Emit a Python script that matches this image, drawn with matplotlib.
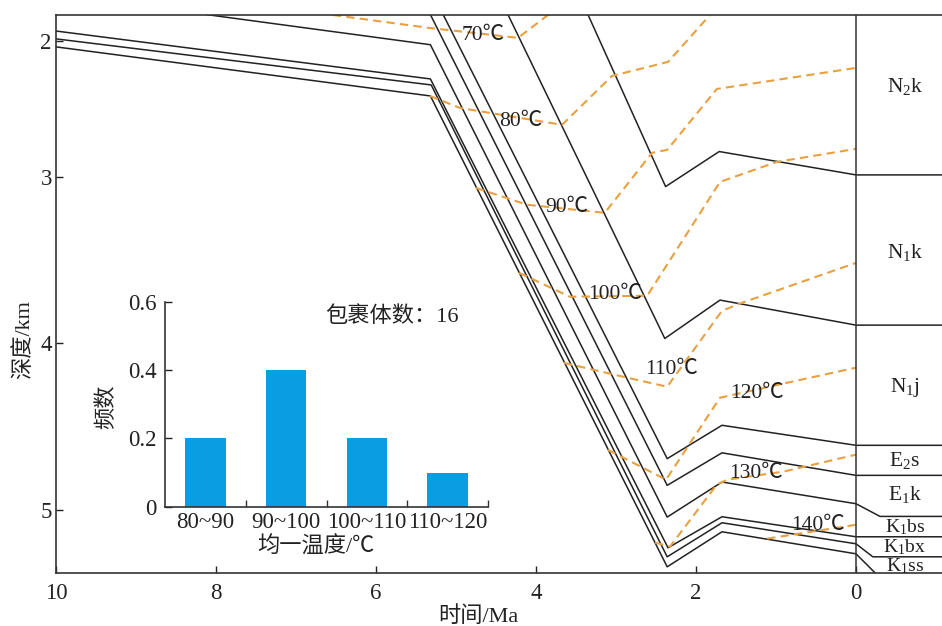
import numpy as np
import matplotlib
matplotlib.use('Agg')
import matplotlib.pyplot as plt

plt.rcParams['font.family'] = ['Liberation Serif', 'Noto Sans CJK SC']
plt.rcParams['mathtext.fontset'] = 'custom'
plt.rcParams['mathtext.rm'] = 'Liberation Serif'
plt.rcParams['mathtext.it'] = 'Liberation Serif:italic'
plt.rcParams['mathtext.bf'] = 'Liberation Serif:bold'
plt.rcParams['axes.unicode_minus'] = False

# 埋藏史曲线：各地层底界 (时间/Ma, 深度/km)，0 Ma 右侧为地层柱
n2k_age = [3.35, 2.38, 1.71, 0, -1.1]
n2k_depth = [2.03, 3.06, 2.85, 2.99, 2.99]
n1k_age = [4.35, 2.39, 1.70, 0, -1.1]
n1k_depth = [2.03, 3.97, 3.74, 3.89, 3.89]
n1j_age = [5.16, 2.36, 1.675, 0, -1.1]
n1j_depth = [2.03, 4.69, 4.49, 4.61, 4.61]
e2s_age = [5.32, 2.36, 1.675, 0, -1.1]
e2s_depth = [2.03, 4.85, 4.655, 4.79, 4.79]
e1k_age = [8.11, 5.32, 2.36, 1.675, 0, -0.3, -1.1]
e1k_depth = [2.03, 2.21, 5.04, 4.83, 4.96, 5.036, 5.036]
k1bs_age = [10, 5.32, 2.35, 1.675, 0, -1.1]
k1bs_depth = [2.128, 2.415, 5.224, 5.038, 5.158, 5.158]
k1bx_age = [10, 5.31, 2.36, 1.675, 0, -0.21, -1.1]
k1bx_depth = [2.175, 2.451, 5.278, 5.074, 5.20, 5.278, 5.278]
k1ss_age = [10, 5.32, 2.36, 1.675, 0, -0.24]
k1ss_depth = [2.223, 2.517, 5.338, 5.128, 5.26, 5.375]

# 古地温等温线
t70_age = [6.54, 5.325, 4.225, 3.85]
t70_depth = [2.032, 2.11, 2.169, 2.032]
t80_age = [5.325, 4.95, 3.675, 3.05, 2.35, 1.825]
t80_depth = [2.517, 2.589, 2.69, 2.397, 2.313, 2.032]
t90_age = [4.75, 4.11, 3.14, 2.55, 2.36, 1.74, 0]
t90_depth = [3.068, 3.169, 3.217, 2.858, 2.84, 2.475, 2.349]
t100_age = [4.21, 3.575, 2.61, 1.70, 0.99, 0]
t100_depth = [3.577, 3.72, 3.714, 3.032, 2.912, 2.834]
t110_age = [3.65, 2.86, 2.36, 1.675, 1.425, 0]
t110_depth = [4.116, 4.205, 4.259, 3.804, 3.756, 3.517]
t120_age = [3.1, 2.375, 1.70, 0.86, 0]
t120_depth = [4.637, 4.816, 4.325, 4.235, 4.145]
t130_age = [2.51, 2.325, 1.74, 1.61, 0.91, 0]
t130_depth = [5.193, 5.217, 4.846, 4.816, 4.768, 4.666]
t140_age = [1.11, 0]
t140_depth = [5.169, 5.086]

temps = [70, 80, 90, 100, 110, 120, 130, 140]
temp_label_age = [4.66, 4.19, 3.61, 3.01, 2.30, 1.24, 1.25, 0.475]
temp_label_depth = [2.152, 2.672, 3.187, 3.708, 4.158, 4.301, 4.78, 5.092]

# 地层柱
strata = [r'N$_2$k', r'N$_1$k', r'N$_1$j', r'E$_2$s', r'E$_1$k',
          r'K$_1$bs', r'K$_1$bx', r'K$_1$ss']
strata_depth = [2.463, 3.457, 4.265, 4.702, 4.906, 5.100, 5.222, 5.334]
strata_size = [15.5, 15.5, 15.5, 15.5, 15.5, 14, 14, 14]

# 包裹体均一温度直方图
bins = ['80~90', '90~100', '100~110', '110~120']
freq = [0.2, 0.4, 0.2, 0.1]

line_c = '#222222'
iso_c = '#e8a040'
spine_c = '#333333'

fig = plt.figure(figsize=(9.42, 6.26), dpi=100)
ax = fig.add_axes([56 / 942, 53 / 626, 886 / 942, 558 / 626])

burial = [(n2k_age, n2k_depth), (n1k_age, n1k_depth), (n1j_age, n1j_depth),
          (e2s_age, e2s_depth), (e1k_age, e1k_depth), (k1bs_age, k1bs_depth),
          (k1bx_age, k1bx_depth), (k1ss_age, k1ss_depth)]
for age, depth in burial:
    ax.plot(age, depth, color=line_c, lw=1.1)

iso = [(t70_age, t70_depth), (t80_age, t80_depth), (t90_age, t90_depth),
       (t100_age, t100_depth), (t110_age, t110_depth), (t120_age, t120_depth),
       (t130_age, t130_depth), (t140_age, t140_depth)]
for age, depth in iso:
    ax.plot(age, depth, color=iso_c, lw=1.5, ls=(0, (4, 2.5)))

for t, x, y in zip(temps, temp_label_age, temp_label_depth):
    ax.text(x, y, '%d℃' % t, ha='center', va='center', fontsize=15.5, color=line_c)

ax.axvline(0, color=spine_c, lw=1.1)
for name, y, fs in zip(strata, strata_depth, strata_size):
    ax.text(-0.61, y, name, ha='center', va='center', fontsize=fs, color=line_c)

ax.set_xlim(10, -1.075)
ax.set_ylim(5.375, 2.032)
ax.set_xticks([10, 8, 6, 4, 2, 0])
ax.set_yticks([2.19, 3, 4, 5])
ax.set_yticklabels(['2', '3', '4', '5'])
ax.tick_params(direction='in', length=5, width=1, labelsize=16.5, colors=line_c)
ax.tick_params(axis='x', pad=7)
ax.tick_params(axis='y', pad=3)
ax.spines['right'].set_visible(False)
for s in ['left', 'top', 'bottom']:
    ax.spines[s].set_color(spine_c)
    ax.spines[s].set_linewidth(1.2)

ax.set_xlabel('时间/Ma', fontsize=16, color=line_c)
ax.xaxis.set_label_coords(0.477, -0.06)
ax.set_ylabel('深度/km', fontsize=16, color=line_c)
ax.yaxis.set_label_coords(-0.025, 0.419)

# 插图
ins = fig.add_axes([165 / 942, (626 - 506.7) / 626, 323 / 942, 205 / 626])
ins.patch.set_alpha(0)
ins.bar(np.arange(len(bins)) + 0.5, freq, width=0.5, color='#0a9de2')
ins.set_xlim(0, 4)
ins.set_ylim(0, 0.6)
ins.spines['top'].set_visible(False)
ins.spines['right'].set_visible(False)
for s in ['left', 'bottom']:
    ins.spines[s].set_color(spine_c)
    ins.spines[s].set_linewidth(1.2)
ins.set_yticks([0, 0.2, 0.4, 0.6])
ins.set_yticklabels(['0', '0.2', '0.4', '0.6'])
ins.set_xticks(np.arange(len(bins)) + 0.5)
ins.set_xticklabels(bins)
ins.set_xticks([1, 2, 3, 4], minor=True)
ins.tick_params(axis='x', which='major', length=0, pad=4, labelsize=16.5, colors=line_c)
ins.tick_params(axis='x', which='minor', direction='in', length=5, width=1, colors=spine_c)
ins.tick_params(axis='y', direction='in', length=5, width=1, pad=6, labelsize=16.5, colors=line_c)
ins.set_ylabel('频数', fontsize=16, color=line_c)
ins.yaxis.set_label_coords(-0.149, 0.486)
ins.set_xlabel('均一温度/℃', fontsize=16, color=line_c)
ins.xaxis.set_label_coords(0.467, -0.146)
ins.text(1.98, 0.556, '包裹体数：16', ha='left', va='center', fontsize=16, color=line_c)

fig.savefig('out.png', dpi=100)
